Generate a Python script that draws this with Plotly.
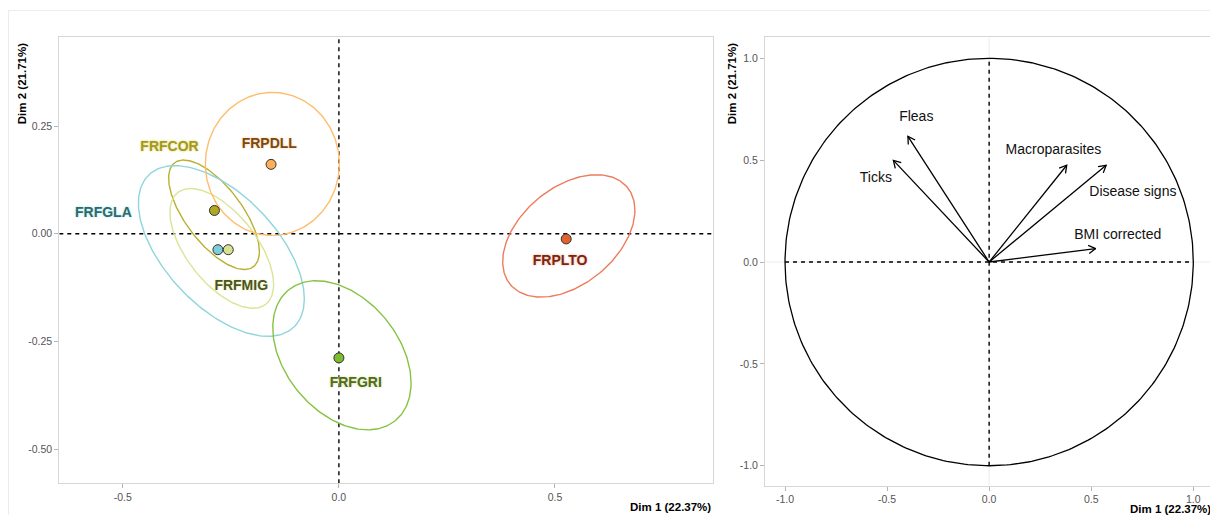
import numpy as np
import plotly.graph_objects as go

# ---------------- data: individuals (group means) ----------------
groups = ["FRFCOR", "FRFGLA", "FRFGRI", "FRFMIG", "FRPDLL", "FRPLTO"]
dim1 = [-0.288, -0.280, 0.000, -0.256, -0.157, 0.526]
dim2 = [0.054, -0.037, -0.288, -0.037, 0.161, -0.012]

# concentration ellipses: centre, half-width, half-height, correlation
ell_cx = [-0.289, -0.272, 0.007, -0.271, -0.154, 0.532]
ell_cy = [0.044, -0.040, -0.282, -0.034, 0.162, -0.005]
ell_hw = [0.105, 0.192, 0.160, 0.120, 0.155, 0.153]
ell_hh = [0.127, 0.198, 0.173, 0.139, 0.166, 0.142]
ell_r = [-0.67, -0.56, -0.37, -0.60, 0.00, 0.42]

# ---------------- data: variables (correlation circle) ----------------
variables = ["Fleas", "Ticks", "Macroparasites", "Disease signs", "BMI corrected"]
var_dim1 = [-0.398, -0.469, 0.380, 0.573, 0.522]
var_dim2 = [0.617, 0.499, 0.475, 0.475, 0.066]

# tick labels
left_xticks = [-0.5, 0.0, 0.5]
left_xticklabels = ["-0.5", "0.0", "0.5"]
left_yticks = [-0.5, -0.25, 0.0, 0.25]
left_yticklabels = ["-0.50", "-0.25", "0.00", "0.25"]
right_ticks = [-1.0, -0.5, 0.0, 0.5, 1.0]
right_ticklabels = ["-1.0", "-0.5", "0.0", "0.5", "1.0"]

x_title = "Dim 1 (22.37%)"
y_title = "Dim 2 (21.71%)"

# ---------------- styles / positions ----------------
ell_colors = ["#b9b032", "#8fd5dc", "#86c241", "#d9e597", "#ffbd6c", "#ec7c5c"]
pt_colors = ["#aea823", "#7fcdd5", "#7bbd2d", "#d8e28e", "#fdaf58", "#e0632f"]
lab_colors = ["#a39a18", "#2d6a6d", "#56691b", "#4b5520", "#7b4912", "#7a2610"]
halo_colors = ["#e6e2a4", "#c7ecef", "#d8ecb8", "#eef3c8", "#ffe0b6", "#f7c9b9"]
group_label_xy = [(-0.392, 0.200), (-0.545, 0.048), (0.039, -0.348),
                  (-0.226, -0.122), (-0.161, 0.207), (0.512, -0.064)]
var_label_xy = [(-0.357, 0.709), (-0.555, 0.412), (0.315, 0.545),
                (0.704, 0.341), (0.630, 0.128)]

FONT = "Liberation Sans, Arial, sans-serif"
OFF = 8  # page body margin
W, H = 1218 - OFF, 515 - OFF


def px(sx):
    return (sx - OFF) / W


def py(sy):
    return 1 - (sy - OFF) / H


fig = go.Figure()

LX = [-0.647, 0.865]
LY = [-0.579, 0.4565]
RX = [-1.098, 1.098]
RY = [-1.098, 1.103]

# dashed reference lines (left)
fig.add_trace(go.Scatter(x=[LX[0], LX[1], None, 0, 0], y=[0, 0, None, LY[0], LY[1]],
                         mode="lines", line=dict(color="black", width=1.4, dash="4px,4px"),
                         hoverinfo="skip", showlegend=False, xaxis="x", yaxis="y"))

# ellipses
t = np.linspace(0, 2 * np.pi, 241)
for i, g in enumerate(groups):
    r = ell_r[i]
    ex = ell_cx[i] + ell_hw[i] * np.cos(t)
    ey = ell_cy[i] + ell_hh[i] * (r * np.cos(t) + np.sqrt(1 - r * r) * np.sin(t))
    fig.add_trace(go.Scatter(x=ex, y=ey, mode="lines",
                             line=dict(color=ell_colors[i], width=1.4),
                             hoverinfo="skip", showlegend=False, xaxis="x", yaxis="y"))

# group mean points
fig.add_trace(go.Scatter(x=dim1, y=dim2, mode="markers",
                         marker=dict(size=10, color=pt_colors, line=dict(color="#333333", width=1)),
                         text=groups, showlegend=False, xaxis="x", yaxis="y"))

# group labels
for i, g in enumerate(groups):
    fig.add_trace(go.Scatter(x=[group_label_xy[i][0]], y=[group_label_xy[i][1]], mode="text",
                             text=[g], textposition="middle center",
                             textfont=dict(family=FONT, size=14, color=lab_colors[i], weight="bold",
                                           shadow="0px 0px 2px %s, 0px 0px 3px %s" % (halo_colors[i], halo_colors[i])),
                             hoverinfo="skip", showlegend=False, xaxis="x", yaxis="y"))

# ---------------- right panel ----------------
fig.add_trace(go.Scatter(x=[-1, 1, None, 0, 0], y=[0, 0, None, -1, 1],
                         mode="lines", line=dict(color="black", width=1.4, dash="4px,4px"),
                         hoverinfo="skip", showlegend=False, xaxis="x2", yaxis="y2"))
tc = np.linspace(0, 2 * np.pi, 361)
fig.add_trace(go.Scatter(x=np.cos(tc), y=np.sin(tc), mode="lines",
                         line=dict(color="black", width=1.3),
                         hoverinfo="skip", showlegend=False, xaxis="x2", yaxis="y2"))

head_len = 0.04
head_ang = np.deg2rad(30)
for i, v in enumerate(variables):
    x, y = var_dim1[i], var_dim2[i]
    n = np.hypot(x, y)
    dx, dy = x / n, y / n
    hx, hy = [], []
    for s in (1, -1):
        c, sn = np.cos(s * head_ang), np.sin(s * head_ang)
        rx = dx * c - dy * sn
        ry = dx * sn + dy * c
        hx.append(x - head_len * rx)
        hy.append(y - head_len * ry)
    fig.add_trace(go.Scatter(x=[0, x, None, hx[0], x, hx[1]], y=[0, y, None, hy[0], y, hy[1]],
                             mode="lines", line=dict(color="black", width=1.3),
                             hoverinfo="skip", showlegend=False, xaxis="x2", yaxis="y2"))
    fig.add_trace(go.Scatter(x=[var_label_xy[i][0]], y=[var_label_xy[i][1]], mode="text",
                             text=[v], textposition="middle center",
                             textfont=dict(family=FONT, size=14, color="#111111"),
                             hoverinfo="skip", showlegend=False, xaxis="x2", yaxis="y2"))

axis_common = dict(showgrid=False, showline=True, mirror=True, linecolor="#d6d6d6", linewidth=1,
                   ticks="outside", ticklen=4, tickcolor="#b5b5b5", tickwidth=1,
                   tickfont=dict(family=FONT, size=10.5, color="#555555"), zeroline=False,
                   fixedrange=True)

fig.update_layout(
    width=W, height=H, margin=dict(l=0, r=0, t=0, b=0),
    paper_bgcolor="white", plot_bgcolor="white", showlegend=False,
    font=dict(family=FONT),
    xaxis=dict(domain=[px(59.3), px(712.7)], range=LX, tickvals=left_xticks,
               ticktext=left_xticklabels, anchor="y", **axis_common),
    yaxis=dict(domain=[py(483.3), py(37)], range=LY, tickvals=left_yticks,
               ticktext=left_yticklabels, anchor="x", **axis_common),
    xaxis2=dict(domain=[px(765), min(1.0, px(1213.3))], range=RX, tickvals=right_ticks,
                ticktext=right_ticklabels, anchor="y2", **axis_common),
    yaxis2=dict(domain=[py(485.7), py(37.3)], range=RY, tickvals=right_ticks,
                ticktext=right_ticklabels, anchor="x2", **axis_common),
)

# faint zero grid lines on right panel + outer frame
fig.update_layout(shapes=[
    dict(type="line", xref="x2", yref="y2", x0=0, x1=0, y0=RY[0], y1=RY[1],
         line=dict(color="#ececec", width=1), layer="below"),
    dict(type="line", xref="x2", yref="y2", x0=RX[0], x1=RX[1], y0=0, y1=0,
         line=dict(color="#ececec", width=1), layer="below"),
    dict(type="rect", xref="paper", yref="paper", x0=px(8.5), x1=1.02, y0=-0.02, y1=py(10.5),
         line=dict(color="#ececec", width=1), layer="below"),
])

tfont = dict(family=FONT, size=11.5, color="black", weight="bold")
fig.add_annotation(text=y_title, xref="paper", yref="paper", x=px(21.7), y=py(41),
                   textangle=-90, xanchor="center", yanchor="top", showarrow=False, font=tfont)
fig.add_annotation(text=x_title, xref="paper", yref="paper", x=px(712.7), y=py(507),
                   xanchor="right", yanchor="middle", showarrow=False, font=tfont)
fig.add_annotation(text=y_title, xref="paper", yref="paper", x=px(731.7), y=py(41),
                   textangle=-90, xanchor="center", yanchor="top", showarrow=False, font=tfont)
fig.add_annotation(text=x_title, xref="paper", yref="paper", x=px(1212.7), y=py(508.5),
                   xanchor="right", yanchor="middle", showarrow=False, font=tfont)

fig.write_html("out.html")
